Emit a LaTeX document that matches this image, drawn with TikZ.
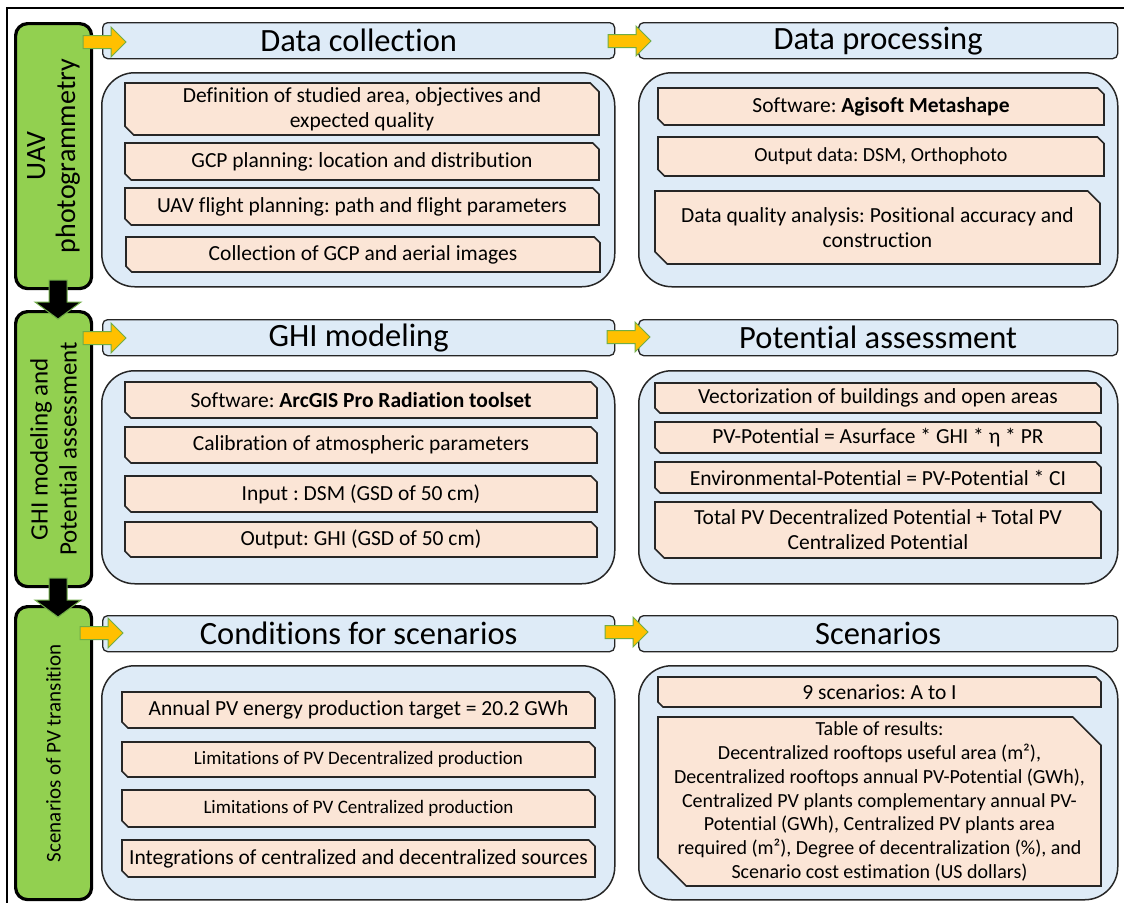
\documentclass[tikz,border=0pt]{standalone}
\usepackage{fontspec}
\setmainfont{Carlito}[Ligatures=NoCommon]
\definecolor{lblue}{HTML}{DEEBF7}
\definecolor{beige}{HTML}{FBE5D6}
\definecolor{lgreen}{HTML}{92D050}
\definecolor{agreen}{HTML}{70AD47}
\definecolor{ayellow}{HTML}{FFC000}
\definecolor{edge}{HTML}{262626}
\tikzset{
 stage/.style={draw=black, line width=3.2pt, fill=lgreen, rounded corners=12pt, anchor=north west},
 stagetext/.style={rotate=90, align=center, text=black},
 header/.style={draw=edge, line width=1.3pt, fill=lblue, rounded corners=5pt, anchor=north west, font=\fontsize{32.5}{38}\selectfont, inner sep=0pt},
 panel/.style={draw=edge, line width=1.5pt, fill=lblue, rounded corners=33pt, anchor=north west},
 item/.style={draw=edge, line width=1.6pt, fill=beige, line join=miter},
 itemtext/.style={align=center, text=black, inner sep=0pt},
 yarr/.style={fill=ayellow, draw=agreen, line width=1pt, line join=miter},
 darr/.style={fill=black, draw=agreen, line width=1pt, line join=miter},
 frame/.style={draw=black, line width=1.5pt},
}
\newcommand\snipbox[7][\fontsize{21.5}{25}\selectfont]{%
  \pgfmathsetmacro\snipS{0.1667*min(#5-#3,#6-#4)}%
  \draw[item] (#3,#4) -- ({#5-\snipS},#4) -- (#5,{#4+\snipS}) -- (#5,#6) -- ({#3+\snipS},#6) -- (#3,{#6-\snipS}) -- cycle;
  \node[itemtext, font=#1] (#2) at ({(#3+#5)/2},{(#4+#6)/2}) {#7};
}
\newcommand\yellowarrow[3]{%
  \coordinate (#1) at (#2,#3);
  \draw[yarr] (#1) ++(0,-6.5) -- ++(28,0) -- ++(0,-8.5) -- ++(15,15) -- ++(-15,15) -- ++(0,-8.5) -- ++(-28,0) -- cycle;
}
\newcommand\blackdown[3]{%
  \coordinate (#1) at (#2,#3);
  \draw[darr] (#1) ++(-9,0) -- ++(0,22) -- ++(-14,0) -- ++(23,17) -- ++(23,-17) -- ++(-14,0) -- ++(0,-22) -- cycle;
}
\frenchspacing
\begin{document}
\begin{tikzpicture}[x=1pt,y=-1pt]
\useasboundingbox (0,0) rectangle (1124,902);
\fill[white] (0,0) rectangle (1124,902);
\draw[frame] (7,903) -- (7,8) -- (1125,8);

% stages (green)
\node[stage, minimum width=76pt, minimum height=265pt] (g1) at (14,22) {};
\node[stagetext, font=\fontsize{28}{30}\selectfont] (g1t) at (g1.center) {UAV\\photogrammetry};
\node[stage, minimum width=76pt, minimum height=275pt] (g2) at (14,310) {};
\node[stagetext, font=\fontsize{25}{29}\selectfont] (g2t) at (g2.center) {GHI modeling and\\Potential assessment};
\node[stage, minimum width=76pt, minimum height=293pt] (g3) at (14,605) {};
\node[stagetext, font=\fontsize{21}{25}\selectfont] (g3t) at (g3.center) {Scenarios of PV transition};

% headers
\node[header, minimum width=512pt, minimum height=36pt] (h11) at (102,22) {Data collection};
\node[header, minimum width=479pt, minimum height=36pt] (h12) at (638,22) {Data processing};
\node[header, minimum width=512pt, minimum height=36pt] (h21) at (102,319) {GHI modeling};
\node[header, minimum width=479pt, minimum height=36pt] (h22) at (638,319) {Potential assessment};
\node[header, minimum width=512pt, minimum height=36pt] (h31) at (102,615) {Conditions for scenarios};
\node[header, minimum width=479pt, minimum height=36pt] (h32) at (638,615) {Scenarios};

% panels
\node[panel, minimum width=513pt, minimum height=214pt] (p11) at (101,72) {};
\node[panel, minimum width=479pt, minimum height=214pt] (p12) at (638,72) {};
\node[panel, minimum width=513pt, minimum height=213pt] (p21) at (101,370) {};
\node[panel, minimum width=479pt, minimum height=213pt] (p22) at (638,370) {};
\node[panel, minimum width=513pt, minimum height=234pt] (p31) at (101,665) {};
\node[panel, minimum width=479pt, minimum height=234pt] (p32) at (638,665) {};

% items row 1
\snipbox{a1}{125}{83}{599}{135}{Definition of studied area, objectives and\\expected quality}
\snipbox{a2}{125}{143}{599}{180}{GCP planning: location and distribution}
\snipbox{a3}{125}{188}{599}{225}{UAV flight planning: path and flight parameters}
\snipbox{a4}{126}{237}{600}{272}{Collection of GCP and aerial images}
\snipbox{b1}{658}{88}{1104}{125}{Software: \textbf{Agisoft Metashape}}
\snipbox[\fontsize{20}{24}\selectfont]{b2}{658}{137}{1104}{176}{Output data: DSM, Orthophoto}
\snipbox{b3}{655}{191}{1100}{264}{Data quality analysis: Positional accuracy and\\construction}

% items row 2
\snipbox{c1}{125}{382}{597}{418}{Software: \textbf{ArcGIS Pro Radiation toolset}}
\snipbox{c2}{125}{427}{597}{463}{Calibration of atmospheric parameters}
\snipbox{c3}{125}{476}{597}{512}{Input : DSM (GSD of 50 cm)}
\snipbox{c4}{125}{522}{597}{557}{Output: GHI (GSD of 50 cm)}
\snipbox{d1}{655}{383}{1101}{413}{Vectorization of buildings and open areas}
\snipbox{d2}{655}{422}{1101}{453}{PV-Potential = Asurface * GHI * η * PR}
\snipbox{d3}{655}{462}{1101}{493}{Environmental-Potential = PV-Potential * CI}
\snipbox{d4}{655}{502}{1101}{558}{Total PV Decentralized Potential + Total PV\\Centralized Potential}

% items row 3
\snipbox{e1}{122}{692}{595}{728}{Annual PV energy production target = 20.2 GWh}
\snipbox[\fontsize{19}{23}\selectfont]{e2}{122}{742}{595}{777}{Limitations of PV Decentralized production}
\snipbox[\fontsize{19}{23}\selectfont]{e3}{122}{790}{595}{827}{Limitations of PV Centralized production}
\snipbox{e4}{122}{840}{595}{877}{Integrations of centralized and decentralized sources}
\snipbox{f1}{658}{677}{1101}{707}{9 scenarios: A to I}
\snipbox[\fontsize{20}{23.7}\selectfont]{f2}{658}{717}{1101}{886}{Table of results:\\Decentralized rooftops useful area (m²),\\Decentralized rooftops annual PV-Potential (GWh),\\Centralized PV plants complementary annual PV-\\Potential (GWh), Centralized PV plants area\\required (m²), Degree of decentralization (\%), and\\Scenario cost estimation (US dollars)}

% yellow arrows
\yellowarrow{y11}{83}{42}
\yellowarrow{y12}{608}{41}
\yellowarrow{y21}{83}{338}
\yellowarrow{y22}{607}{337}
\yellowarrow{y31}{80}{633}
\yellowarrow{y32}{605}{632}

% down arrows
\blackdown{v1}{58}{280}
\blackdown{v2}{58}{578}
\end{tikzpicture}
\end{document}
